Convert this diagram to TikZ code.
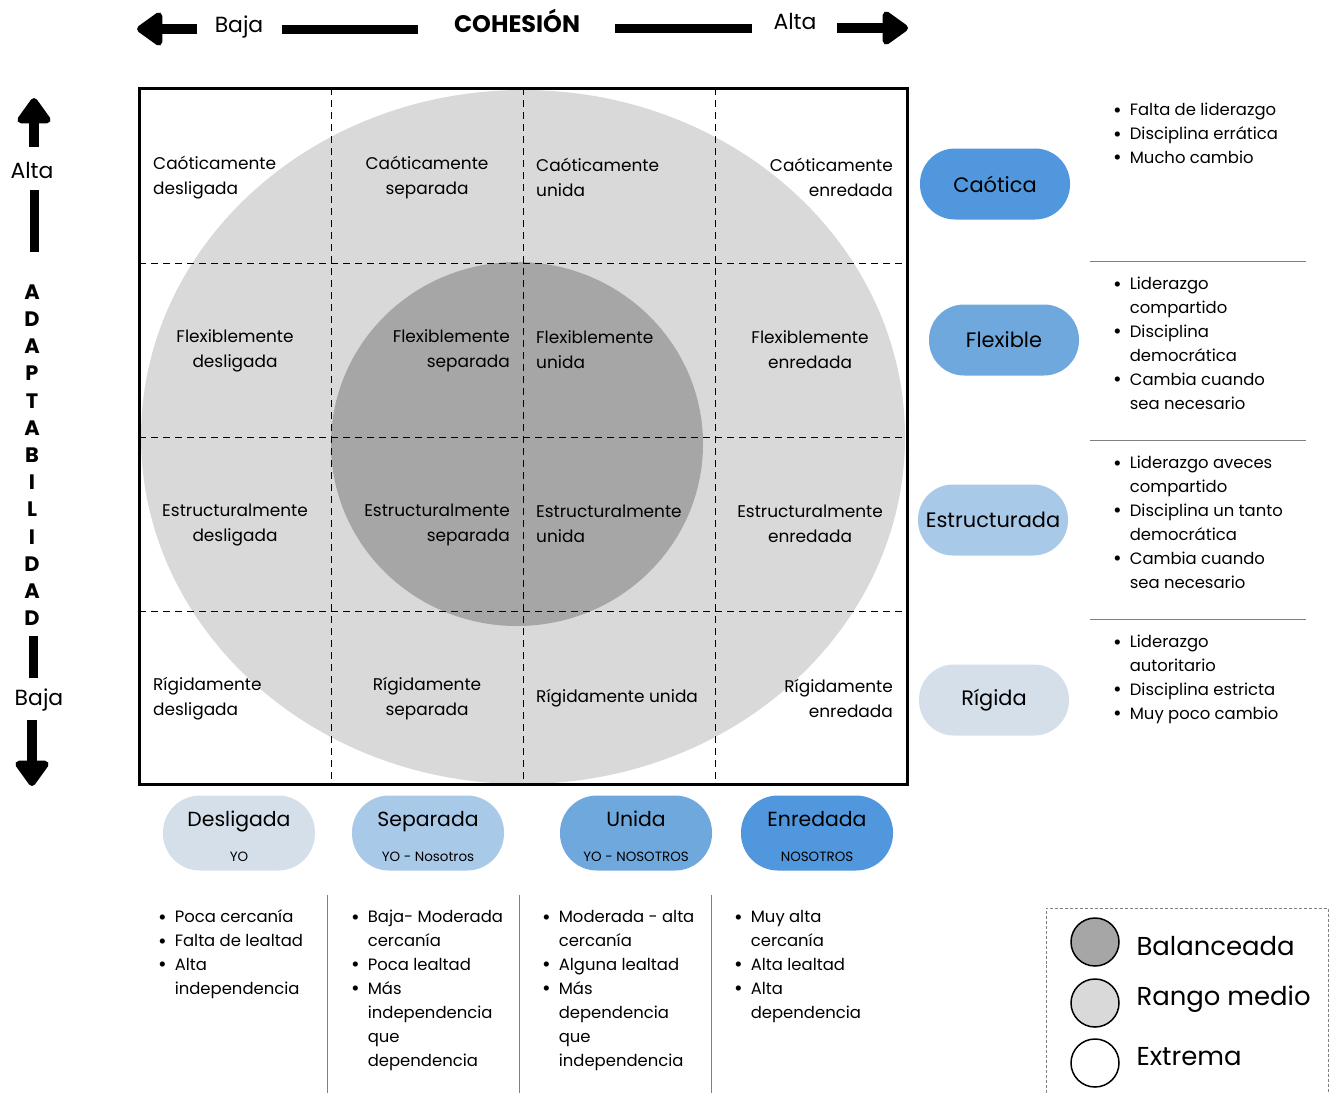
\documentclass[tikz,border=0pt]{standalone}
\usepackage{fontspec}
\setmainfont{Poppins}
\usetikzlibrary{arrows.meta,positioning}

\definecolor{grisclaro}{HTML}{D9D9D9}
\definecolor{grisoscuro}{HTML}{A6A6A6}
\definecolor{azulA}{HTML}{5097DD}
\definecolor{azulB}{HTML}{6FA8DC}
\definecolor{azulC}{HTML}{A9C9E9}
\definecolor{azulD}{HTML}{D5DFEA}

\newcommand{\listado}[1]{\begin{tabular}{@{}c@{\hspace{8bp}}l@{}}#1\end{tabular}}
\newcommand{\punto}{\raisebox{-1.2bp}{\fontsize{21}{21}\selectfont\textbullet}}

\begin{document}
\begin{tikzpicture}[x=1bp,y=-1bp]

  \tikzset{celda/.style={inner sep=0pt,
  		font=\fontsize{17}{25}\selectfont}, }
  \tikzset{pildora/.style={rectangle, rounded corners=35bp,
  		minimum width=150bp, minimum height=71bp,
  		font=\fontsize{21}{24}\selectfont}, }
  \tikzset{pildora baja/.style={pildora, rounded corners=37bp,
  		minimum width=152bp, minimum height=75bp}, }
  \tikzset{titulo/.style={anchor=base, font=\fontsize{20.5}{24}\selectfont}, }
  \tikzset{subtitulo/.style={anchor=base, font=\fontsize{13.5}{16}\selectfont}, }
  \tikzset{lista/.style={anchor=north west, inner sep=0pt,
  		font=\fontsize{16.5}{24}\selectfont}, }
  \tikzset{eje/.style={font=\fontsize{22}{24}\selectfont}, }
  \tikzset{letra/.style={inner sep=0pt, font=\fontsize{21}{24}\selectfont\bfseries}, }
  \tikzset{barra/.style={line width=9bp}, }
  \tikzset{flecha/.style={line width=10bp,
  		-{Triangle[width=38bp,length=28bp,round]}}, }
  \tikzset{rejilla/.style={line width=0.9bp, dash pattern=on 7bp off 5bp}, }
  \tikzset{divisor/.style={gray, line width=0.8bp}, }
  \tikzset{muestra/.style={circle, draw, line width=1.5bp, minimum size=48bp}, }
  \tikzset{leyenda/.style={anchor=west, font=\fontsize{26}{30}\selectfont}, }

\useasboundingbox (0,0) rectangle (1334,1093);

%% zonas
\fill[grisclaro] (523,437) ellipse [x radius=382, y radius=347];
\fill[grisoscuro] (517,444) ellipse [x radius=186, y radius=182];
\foreach \x in {331,523,715}
  \draw[rejilla] (\x,88) -- (\x,784);
\foreach \y in {263,437,611}
  \draw[rejilla] (139,\y) -- (907,\y);
\draw[line width=3bp] (139,88) rectangle (907,784);

%% celdas
\node[celda, anchor=west, align=left] (c11) at (153,177.5) {Caóticamente\\desligada};
\node[celda, align=center] (c12) at (427,177.5) {Caóticamente\\separada};
\node[celda, anchor=west, align=left] (c13) at (536,177) {Caóticamente\\unida};
\node[celda, anchor=east, align=right] (c14) at (893,177) {Caóticamente\\enredada};
\node[celda, align=center] (c21) at (235,351) {Flexiblemente\\desligada};
\node[celda, anchor=east, align=right] (c22) at (510,351) {Flexiblemente\\separada};
\node[celda, anchor=west, align=left] (c23) at (536,350) {Flexiblemente\\unida};
\node[celda, align=center] (c24) at (810,350) {Flexiblemente\\enredada};
\node[celda, align=center] (c31) at (235,525) {Estructuralmente\\desligada};
\node[celda, anchor=east, align=right] (c32) at (510,525) {Estructuralmente\\separada};
\node[celda, anchor=west, align=left] (c33) at (536,524) {Estructuralmente\\unida};
\node[celda, align=center] (c34) at (810,524) {Estructuralmente\\enredada};
\node[celda, anchor=west, align=left] (c41) at (153,699) {Rígidamente\\desligada};
\node[celda, align=center] (c42) at (427,699) {Rígidamente\\separada};
\node[celda, anchor=west] (c43) at (536,698) {Rígidamente unida};
\node[celda, anchor=east, align=right] (c44) at (893,698) {Rígidamente\\enredada};

%% eje cohesion
\node[eje] (baja-h) at (239,27) {Baja};
\node[font=\fontsize{24}{26}\selectfont\bfseries] (cohesion) at (517,21) {COHESIÓN};
\node[eje] (alta-h) at (795,21) {Alta};
\coordinate (fi-a) at (197,29);
\coordinate (fi-b) at (137,29);
\coordinate (bi-a) at (282,29);
\coordinate (bi-b) at (418,29);
\coordinate (bd-a) at (615,28);
\coordinate (bd-b) at (752,28);
\coordinate (fd-a) at (837,28);
\coordinate (fd-b) at (908,28);
\draw[flecha] (fi-a) -- (fi-b);
\draw[barra] (bi-a) -- (bi-b);
\draw[barra] (bd-a) -- (bd-b);
\draw[flecha] (fd-a) -- (fd-b);

%% eje adaptabilidad
\node[eje] (alta-v) at (32,170) {Alta};
\node[eje] (baja-v) at (39,700) {Baja};
\foreach \l [count=\i from 0] in {A,D,A,P,T,A,B,I,L,I,D,A,D}
  \node[letra] (adap\i) at (32,292+27.2*\i) {\l};
\coordinate (fs-a) at (34,147);
\coordinate (fs-b) at (34,98);
\coordinate (vs-a) at (34,190);
\coordinate (vs-b) at (34,252);
\coordinate (vi-a) at (33,636);
\coordinate (vi-b) at (33,678);
\coordinate (fb-a) at (32,720);
\coordinate (fb-b) at (32,786);
\draw[flecha] (fs-a) -- (fs-b);
\draw[barra] (vs-a) -- (vs-b);
\draw[barra] (vi-a) -- (vi-b);
\draw[flecha] (fb-a) -- (fb-b);

%% tipos de adaptabilidad
\node[pildora, fill=azulA] (caotica) at (995,184) {Caótica};
\node[pildora, fill=azulB] (flexible) at (1004,340) {Flexible};
\node[pildora, fill=azulC] (estructurada) at (993,520) {Estructurada};
\node[pildora, fill=azulD] (rigida) at (994,700) {Rígida};

\node[lista] (l-caotica) at (1113,99) {\listado{
  \punto & Falta de liderazgo\\ \punto & Disciplina errática\\
  \punto & Mucho cambio}};
\node[lista] (l-flexible) at (1113,273) {\listado{
  \punto & Liderazgo\\ & compartido\\ \punto & Disciplina\\ & democrática\\
  \punto & Cambia cuando\\ & sea necesario}};
\node[lista] (l-estructurada) at (1113,452) {\listado{
  \punto & Liderazgo aveces\\ & compartido\\ \punto & Disciplina un tanto\\
  & democrática\\ \punto & Cambia cuando\\ & sea necesario}};
\node[lista] (l-rigida) at (1113,631) {\listado{
  \punto & Liderazgo\\ & autoritario\\ \punto & Disciplina estricta\\
  \punto & Muy poco cambio}};
\foreach \y in {261,440,619}
  \draw[divisor] (1090,\y) -- (1306,\y);

%% tipos de cohesion
\foreach \n/\x/\c/\t/\s in {desligada/239/azulD/Desligada/YO,
    separada/428/azulC/Separada/YO - Nosotros,
    unida/636/azulB/Unida/YO - NOSOTROS,
    enredada/817/azulA/Enredada/NOSOTROS}{
  \node[pildora baja, fill=\c] (\n) at (\x,833) {};
  \node[titulo] (\n-t) at (\x,826) {\t};
  \node[subtitulo] (\n-s) at (\x,861) {\s};
}
\foreach \x in {327,519,711}
  \draw[divisor] (\x,895) -- (\x,1093);

\node[lista] (l-desligada) at (158,906) {\listado{
  \punto & Poca cercanía\\ \punto & Falta de lealtad\\
  \punto & Alta\\ & independencia}};
\node[lista] (l-separada) at (351,906) {\listado{
  \punto & Baja- Moderada\\ & cercanía\\ \punto & Poca lealtad\\
  \punto & Más\\ & independencia\\ & que\\ & dependencia}};
\node[lista] (l-unida) at (542,906) {\listado{
  \punto & Moderada - alta\\ & cercanía\\ \punto & Alguna lealtad\\
  \punto & Más\\ & dependencia\\ & que\\ & independencia}};
\node[lista] (l-enredada) at (734,906) {\listado{
  \punto & Muy alta\\ & cercanía\\ \punto & Alta lealtad\\
  \punto & Alta\\ & dependencia}};

%% leyenda
\draw[gray, densely dashed, line width=0.6bp] (1046,1093) -- (1046,908) -- (1328,908) -- (1328,1093);
\node[muestra, fill=grisoscuro] (ley1) at (1095,942) {};
\node[muestra, fill=grisclaro] (ley2) at (1095,1003) {};
\node[muestra, fill=white] (ley3) at (1095,1063) {};
\node[leyenda] (ley1-t) at (1133,946) {Balanceada};
\node[leyenda] (ley2-t) at (1133,999) {Rango medio};
\node[leyenda] (ley3-t) at (1133,1057) {Extrema};
%%
\end{tikzpicture}
\end{document}
